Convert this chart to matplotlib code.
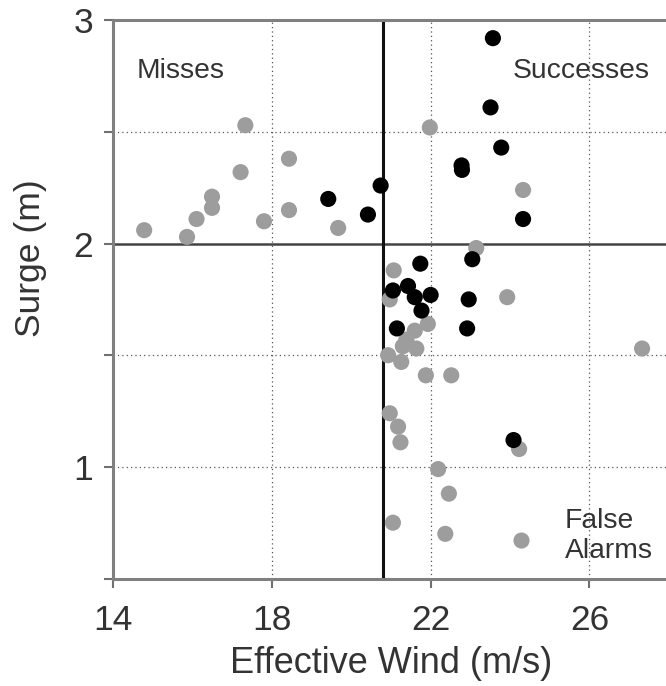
import matplotlib
matplotlib.use("Agg")
import matplotlib.pyplot as plt
from matplotlib.ticker import FixedLocator

plt.rcParams['font.family'] = ['Liberation Sans', 'DejaVu Sans']

# storms that were not forecast as successes (misses + false alarms)
other_wind = [14.78, 15.86, 16.10, 16.49, 16.49, 17.21, 17.33, 17.80, 18.43, 18.43,
              19.67, 21.98, 24.33, 23.15, 21.07, 20.97, 23.93, 21.93, 21.60, 21.39,
              21.30, 21.64, 20.93, 21.26, 21.88, 22.52, 27.33, 20.97, 21.18, 21.24,
              24.23, 22.19, 22.46, 21.05, 22.37, 24.29]
other_surge = [2.06, 2.03, 2.11, 2.21, 2.16, 2.32, 2.53, 2.10, 2.38, 2.15,
               2.07, 2.52, 2.24, 1.98, 1.88, 1.75, 1.76, 1.64, 1.61, 1.57,
               1.54, 1.53, 1.50, 1.47, 1.41, 1.41, 1.53, 1.24, 1.18, 1.11,
               1.08, 0.99, 0.88, 0.75, 0.70, 0.67]

# storms where surge was forecast correctly
hit_wind = [19.42, 20.42, 20.74, 23.57, 23.51, 23.78, 22.78, 22.79, 24.33, 21.74,
            23.05, 21.05, 21.43, 21.60, 22.00, 21.77, 22.96, 21.15, 22.92, 24.09]
hit_surge = [2.20, 2.13, 2.26, 2.92, 2.61, 2.43, 2.35, 2.33, 2.11, 1.91,
             1.93, 1.79, 1.81, 1.76, 1.77, 1.70, 1.75, 1.62, 1.62, 1.12]

wind_threshold = 20.8
surge_threshold = 2.0

x_ticks = [14, 18, 22, 26]
y_major = [1, 2, 3]
y_minor = [0.5, 1.5, 2.5]

fig = plt.figure(figsize=(6.66, 6.86), dpi=100)
ax = fig.add_axes([0.170, 0.1567, 0.834, 0.8137])

# dotted grid, solid threshold lines
for x in x_ticks[1:]:
    ax.axvline(x, color='#555555', lw=0.9, ls=(0, (1, 2.5)), zorder=1)
for y in [1, 1.5, 2.5]:
    ax.axhline(y, color='#555555', lw=0.9, ls=(0, (1, 2.5)), zorder=1)
ax.axhline(surge_threshold, color='#444444', lw=1.8, zorder=2)
ax.axvline(wind_threshold, color='#111111', lw=2.2, zorder=2)

ax.scatter(other_wind, other_surge, s=135, color='#9d9d9d', edgecolors='none', zorder=3)
ax.scatter(hit_wind, hit_surge, s=135, color='black', edgecolors='none', zorder=4)

ax.set_xlim(14, 28)
ax.set_ylim(0.5, 3)
ax.set_xticks(x_ticks)
ax.yaxis.set_major_locator(FixedLocator(y_major))
ax.yaxis.set_minor_locator(FixedLocator(y_minor))

for side in ['left', 'bottom', 'top', 'right']:
    ax.spines[side].set_color('#808080')
    ax.spines[side].set_linewidth(2.2)
ax.tick_params(which='both', direction='out', length=6.5, width=1.5, color='#707070')
ax.tick_params(axis='x', labelsize=25.5, labelcolor='#333333', pad=12)
ax.tick_params(axis='y', labelsize=25.5, labelcolor='#333333', pad=8)

ax.set_xlabel('Effective Wind (m/s)', fontsize=26, color='#333333', labelpad=6)
ax.set_ylabel('Surge (m)', fontsize=25.5, color='#333333')
ax.yaxis.set_label_coords(-0.12, 0.574)

ax.text(14.6, 2.775, 'Misses', fontsize=20.3, color='#333333', va='center')
ax.text(24.07, 2.775, 'Successes', fontsize=20.3, color='#333333', va='center')
ax.text(25.38, 0.69, 'False\nAlarms', fontsize=20.3, color='#333333', va='center',
        linespacing=1.2)

fig.savefig('out.png', dpi=100)
